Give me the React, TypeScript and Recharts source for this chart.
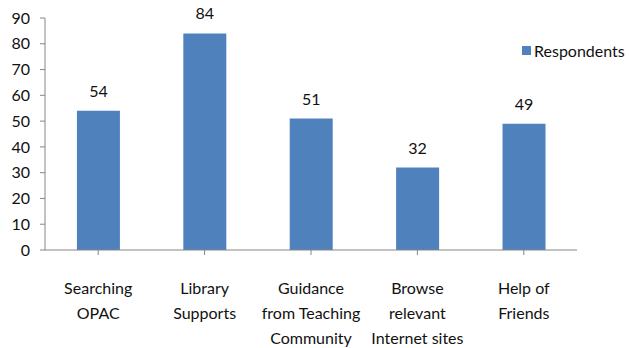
import React from "react";
import { BarChart, Bar, XAxis, YAxis, Legend, LabelList } from "recharts";

const categories = [
  ["Searching", "OPAC"],
  ["Library", "Supports"],
  ["Guidance", "from Teaching", "Community"],
  ["Browse", "relevant", "Internet sites"],
  ["Help of", "Friends"],
];
const respondents = [54, 84, 51, 32, 49];
const yTicks = [0, 10, 20, 30, 40, 50, 60, 70, 80, 90];

const data = categories.map((c, i) => ({
  name: c.join("\n"),
  Respondents: respondents[i],
}));

const FONT = "Lato, 'Open Sans', sans-serif";

const XTick = (props: any) => {
  const { x, y, payload } = props;
  const lines = String(payload.value).split("\n");
  return (
    <g transform={`translate(${x},${y})`}>
      {lines.map((l, i) => (
        <text
          key={i}
          x={0}
          y={37 + i * 25}
          textAnchor="middle"
          fontSize={16}
          fontFamily={FONT}
          fill="#111"
        >
          {l}
        </text>
      ))}
    </g>
  );
};

const LegendContent = (props: any) => {
  const { payload } = props;
  return (
    <div style={{ fontFamily: FONT, fontSize: 16, whiteSpace: "nowrap" }}>
      {(payload || []).map((p: any, i: number) => (
        <div key={i} style={{ display: "flex", alignItems: "center" }}>
          <span
            style={{
              display: "inline-block",
              width: 9,
              height: 9,
              background: p.color,
              marginRight: 3,
            }}
          />
          <span style={{ color: "#111" }}>{p.value}</span>
        </div>
      ))}
    </div>
  );
};

export default function App() {
  return (
    <div style={{ position: "absolute", left: 0, top: 0, background: "#fff" }}>
      <BarChart
        width={629}
        height={348}
        data={data}
        margin={{ top: 18, right: 52, left: 0, bottom: 0 }}
        barCategoryGap="30%"
      >
        <XAxis
          dataKey="name"
          height={98}
          interval={0}
          tick={<XTick />}
          tickSize={5}
          axisLine={{ stroke: "#868686" }}
          tickLine={{ stroke: "#868686" }}
        />
        <YAxis
          width={45}
          domain={[0, 90]}
          ticks={yTicks}
          interval={0}
          tickSize={5}
          tickMargin={10}
          axisLine={{ stroke: "#868686" }}
          tickLine={{ stroke: "#868686" }}
          tick={{ fontSize: 16, fontFamily: FONT, fill: "#111" }}
        />
        <Legend
          layout="vertical"
          verticalAlign="middle"
          align="center"
          content={<LegendContent />}
          wrapperStyle={{
            position: "absolute",
            left: 522,
            top: 41,
            width: 106,
          }}
        />
        <Bar dataKey="Respondents" fill="#4F81BD" isAnimationActive={false}>
          <LabelList
            dataKey="Respondents"
            position="top"
            offset={14}
            style={{ fontSize: 16, fontFamily: FONT, fill: "#111" }}
          />
        </Bar>
      </BarChart>
    </div>
  );
}
